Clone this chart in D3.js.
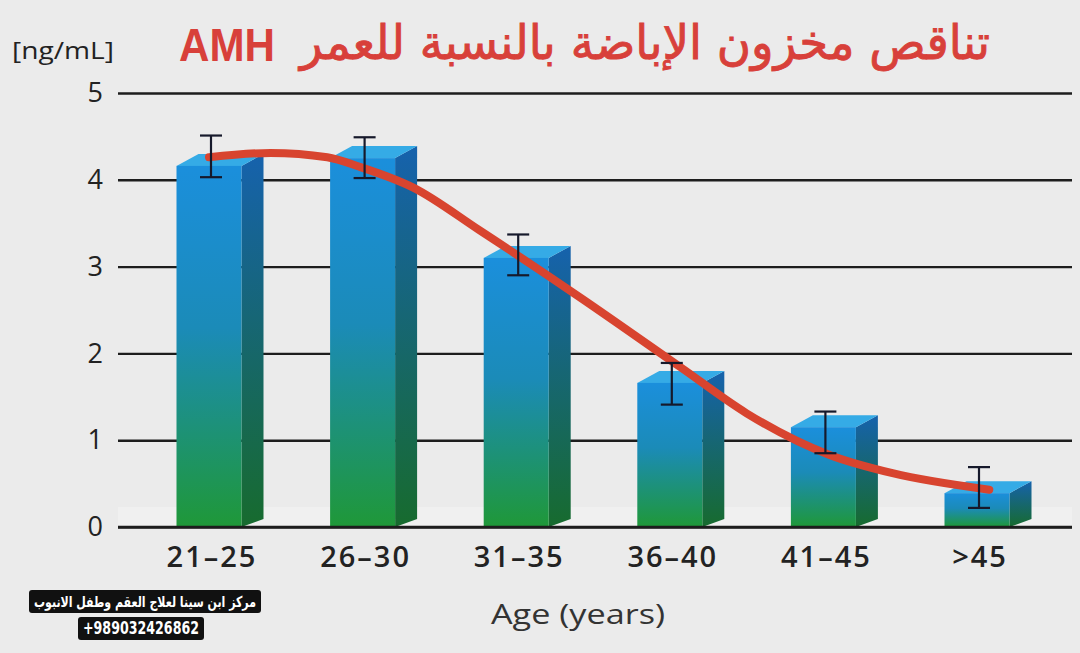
<!DOCTYPE html>
<html>
<head>
<meta charset="utf-8">
<script src="https://cdn.jsdelivr.net/npm/d3@7"></script>
<style>
  html, body { margin: 0; padding: 0; background: #ebebeb; }
  #chart svg { display: block; }
</style>
</head>
<body>
<div id="chart"></div>
<script>
var width = 1080;
var height = 653;

// values
var categories = ["21–25", "26–30", "31–35", "36–40", "41–45", ">45"];
var amhValues = [4.16, 4.25, 3.10, 1.66, 1.15, 0.39];
var errLow = [4.03, 4.02, 2.90, 1.41, 0.85, 0.22];
var errHigh = [4.51, 4.49, 3.37, 1.89, 1.33, 0.69];
// trend curve, position in category steps and value
var trendPos = [0, 0.40, 0.77, 0.98, 1.33, 1.76, 2.42, 3.07, 3.50, 4.04, 4.45, 5.08];
var trendValues = [4.26, 4.31, 4.26, 4.15, 3.91, 3.42, 2.64, 1.84, 1.31, 0.83, 0.62, 0.43];
var yTicks = [0, 1, 2, 3, 4, 5];

var titleText = "تناقص مخزون الإباضة بالنسبة للعمر";
var unitText = "[ng/mL]";
var xTitle = "Age (years)";
var centreName = "مركز ابن سينا لعلاج العقم وطفل الانبوب";
var centrePhone = "+989032426862";

var barW = 65, depthX = 22, depthY = 12;

var x = d3.scalePoint().domain(categories).range([209, 977]);
var xi = d3.scaleLinear().domain([0, categories.length - 1]).range([209, 977]);
var y = d3.scaleLinear().domain([0, 5]).range([527, 93]);

var svg = d3.select("#chart").append("svg")
  .attr("width", width)
  .attr("height", height)
  .attr("viewBox", "0 0 " + width + " " + height);

svg.append("rect").attr("width", width).attr("height", height).attr("fill", "#ebebeb");

var defs = svg.append("defs");
var g1 = defs.append("linearGradient").attr("id", "front").attr("x1", 0).attr("y1", 0).attr("x2", 0).attr("y2", 1);
g1.append("stop").attr("offset", "0%").attr("stop-color", "#1b8fdc");
g1.append("stop").attr("offset", "45%").attr("stop-color", "#1b8bb8");
g1.append("stop").attr("offset", "100%").attr("stop-color", "#1f9838");
var g2 = defs.append("linearGradient").attr("id", "side").attr("x1", 0).attr("y1", 0).attr("x2", 0).attr("y2", 1);
g2.append("stop").attr("offset", "0%").attr("stop-color", "#1662ad");
g2.append("stop").attr("offset", "100%").attr("stop-color", "#176b2e");

// floor band
svg.append("rect")
  .attr("x", 118).attr("y", y(0) - 20)
  .attr("width", 1072 - 118).attr("height", 20)
  .attr("fill", "#f0f0f0");

// grid + y labels
var yAxis = svg.append("g")
  .attr("transform", "translate(118,0)")
  .call(d3.axisLeft(y).tickValues(yTicks).tickSize(-(1072 - 118)).tickPadding(15).tickFormat(d3.format("d")));
yAxis.select(".domain").remove();
yAxis.selectAll(".tick line").attr("stroke", "#1d1d1d").attr("stroke-width", 2.4);
yAxis.selectAll(".tick text")
  .attr("fill", "#222")
  .style("font-family", "'Open Sans', sans-serif")
  .style("font-size", "27px");

// bars
var bars = svg.append("g").selectAll("g").data(categories).enter().append("g");

bars.append("path")
  .attr("fill", "url(#side)")
  .attr("d", function(d, i) {
    var xr = x(d) + barW / 2, yt = y(amhValues[i]), yb = y(0);
    return "M" + xr + "," + yt + "L" + (xr + depthX) + "," + (yt - depthY) +
      "L" + (xr + depthX) + "," + (yb - depthY + 4) + "L" + xr + "," + yb + "Z";
  });

bars.append("path")
  .attr("fill", "#35abe6")
  .attr("d", function(d, i) {
    var xl = x(d) - barW / 2, xr = x(d) + barW / 2, yt = y(amhValues[i]);
    return "M" + xl + "," + yt + "L" + (xl + depthX) + "," + (yt - depthY) +
      "L" + (xr + depthX) + "," + (yt - depthY) + "L" + xr + "," + yt + "Z";
  });

bars.append("rect")
  .attr("fill", "url(#front)")
  .attr("x", function(d) { return x(d) - barW / 2; })
  .attr("y", function(d, i) { return y(amhValues[i]); })
  .attr("width", barW)
  .attr("height", function(d, i) { return y(0) - y(amhValues[i]); });

// zero line on top
svg.append("line")
  .attr("x1", 118).attr("x2", 1072)
  .attr("y1", y(0)).attr("y2", y(0))
  .attr("stroke", "#1d1d1d").attr("stroke-width", 2.4);

// trend curve
var trend = d3.line()
  .x(function(d) { return xi(d); })
  .y(function(d, i) { return y(trendValues[i]); })
  .curve(d3.curveMonotoneX);

svg.append("path")
  .datum(trendPos)
  .attr("d", trend)
  .attr("fill", "none")
  .attr("stroke", "#d8442f")
  .attr("stroke-width", 8)
  .attr("stroke-linecap", "round");

// error bars
var err = svg.append("g").selectAll("g").data(categories).enter().append("g")
  .attr("stroke", "#16192b").attr("stroke-width", 2.2);
err.append("line")
  .attr("x1", function(d) { return x(d) + 2; }).attr("x2", function(d) { return x(d) + 2; })
  .attr("y1", function(d, i) { return y(errHigh[i]); })
  .attr("y2", function(d, i) { return y(errLow[i]); });
err.append("line")
  .attr("x1", function(d) { return x(d) - 9; }).attr("x2", function(d) { return x(d) + 13; })
  .attr("y1", function(d, i) { return y(errHigh[i]); })
  .attr("y2", function(d, i) { return y(errHigh[i]); });
err.append("line")
  .attr("x1", function(d) { return x(d) - 9; }).attr("x2", function(d) { return x(d) + 13; })
  .attr("y1", function(d, i) { return y(errLow[i]); })
  .attr("y2", function(d, i) { return y(errLow[i]); });

// x labels
svg.append("g").selectAll("text").data(categories).enter().append("text")
  .attr("x", function(d) { return x(d) + 3; })
  .attr("y", 567)
  .attr("text-anchor", "middle")
  .attr("fill", "#222")
  .style("font-family", "'Open Sans', sans-serif")
  .style("font-weight", 600)
  .style("font-size", "29px")
  .style("letter-spacing", "2px")
  .text(function(d) { return d; });

svg.append("text")
  .attr("x", 491).attr("y", 624)
  .attr("textLength", 174)
  .attr("lengthAdjust", "spacingAndGlyphs")
  .attr("fill", "#333")
  .style("font-family", "'Open Sans', sans-serif")
  .style("font-size", "28px")
  .text(xTitle);

svg.append("text")
  .attr("x", 12).attr("y", 59)
  .attr("textLength", 102)
  .attr("lengthAdjust", "spacingAndGlyphs")
  .attr("fill", "#222")
  .style("font-family", "'Open Sans', sans-serif")
  .style("font-size", "23px")
  .text(unitText);

// title
svg.append("text")
  .attr("x", 300).attr("y", 59)
  .attr("textLength", 690)
  .attr("lengthAdjust", "spacingAndGlyphs")
  .attr("fill", "#d8403a")
  .attr("stroke", "#d8403a")
  .attr("stroke-width", 0.9)
  .style("font-family", "'DejaVu Sans', sans-serif")
  .style("font-size", "48px")
  .text(titleText);

svg.append("text")
  .attr("x", 179).attr("y", 61)
  .attr("textLength", 96)
  .attr("lengthAdjust", "spacingAndGlyphs")
  .attr("fill", "#d8403a")
  .style("font-family", "'Liberation Sans', Arial, sans-serif")
  .style("font-weight", "bold")
  .style("font-size", "46px")
  .text("AMH");

// watermark
svg.append("rect").attr("x", 29).attr("y", 590).attr("width", 232).attr("height", 23).attr("rx", 3).attr("fill", "#111");
svg.append("rect").attr("x", 78).attr("y", 617).attr("width", 126).attr("height", 23).attr("rx", 3).attr("fill", "#111");
svg.append("text")
  .attr("x", 145).attr("y", 607)
  .attr("text-anchor", "middle")
  .attr("textLength", 222)
  .attr("lengthAdjust", "spacingAndGlyphs")
  .attr("fill", "#fff")
  .style("font-family", "'DejaVu Sans Condensed', 'DejaVu Sans', sans-serif")
  .style("font-weight", "bold")
  .style("font-size", "15px")
  .text(centreName);
svg.append("text")
  .attr("x", 141).attr("y", 634)
  .attr("text-anchor", "middle")
  .attr("textLength", 116)
  .attr("lengthAdjust", "spacingAndGlyphs")
  .attr("fill", "#fff")
  .style("font-family", "'Liberation Sans Narrow', 'DejaVu Sans Condensed', sans-serif")
  .style("font-weight", "bold")
  .style("font-size", "17px")
  .text(centrePhone);
</script>
</body>
</html>
